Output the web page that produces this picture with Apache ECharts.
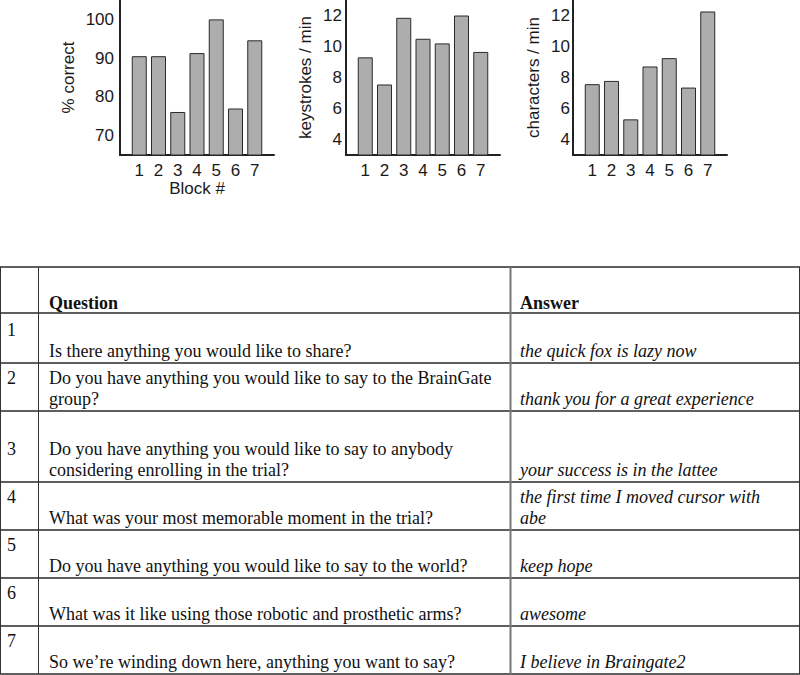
<!DOCTYPE html>
<html>
<head>
<meta charset="utf-8">
<script src="https://cdn.jsdelivr.net/npm/echarts@6/dist/echarts.min.js"></script>
<style>
  html, body { margin: 0; padding: 0; background: #fff; }
  #main { width: 800px; height: 675px; }
</style>
</head>
<body>
<div id="main"></div>
<script type="text/javascript">
  // block numbers and measured values
  var blocks = [1, 2, 3, 4, 5, 6, 7];
  var pctCorrect = [90.5, 90.5, 76.1, 91.3, 100, 77.0, 94.6];
  var keystrokesPerMin = [9.3, 7.55, 11.85, 10.5, 10.2, 12.0, 9.65];
  var charsPerMin = [7.57, 7.78, 5.3, 8.71, 9.25, 7.35, 12.26];
  var pctTicks = [70, 80, 90, 100];
  var rateTicks = [4, 6, 8, 10, 12];

  // table text (each cell is a list of lines, bottom aligned in its row)
  var headers = ['Question', 'Answer'];
  var rowNums = [['1', ''], ['2', ''], ['', '3', ''], ['4', ''], ['5', ''], ['6', ''], ['7', '']];
  var questions = [
    ['', 'Is there anything you would like to share?'],
    ['Do you have anything you would like to say to the BrainGate', 'group?'],
    ['', 'Do you have anything you would like to say to anybody', 'considering enrolling in the trial?'],
    ['', 'What was your most memorable moment in the trial?'],
    ['', 'Do you have anything you would like to say to the world?'],
    ['', 'What was it like using those robotic and prosthetic arms?'],
    ['', 'So we\u2019re winding down here, anything you want to say?']
  ];
  var answers = [
    ['', 'the quick fox is lazy now'],
    ['', 'thank you for a great experience'],
    ['', '', 'your success is in the lattee'],
    ['the first time I moved cursor with', 'abe'],
    ['', 'keep hope'],
    ['', 'awesome'],
    ['', 'I believe in Braingate2']
  ];

  var myChart = echarts.init(document.getElementById('main'), null, { renderer: 'svg' });

  var sansFont = 'Liberation Sans';
  var txtColor = '#1a1a1a';

  function pairs(vals) {
    return blocks.map(function (b, i) { return [b, vals[i]]; });
  }

  var grids = [
    { left: 120, top: 0, width: 154, height: 155 },
    { left: 346, top: 0, width: 154, height: 155 },
    { left: 573, top: 0, width: 154, height: 155 }
  ];

  function xAxisFor(idx, name) {
    return {
      type: 'value', gridIndex: idx, min: 0, max: 8,
      name: name || '', nameLocation: 'middle', nameGap: 25,
      nameTextStyle: { fontFamily: sansFont, fontSize: 17, color: txtColor },
      axisLine: { lineStyle: { color: '#222', width: 2 } },
      axisTick: { show: false },
      splitLine: { show: false },
      axisLabel: {
        customValues: blocks, margin: 7,
        fontFamily: sansFont, fontSize: 17, color: txtColor
      }
    };
  }

  function yAxisFor(idx, name, min, max, ticks, gap, margin) {
    return {
      type: 'value', gridIndex: idx, min: min, max: max,
      name: name, nameLocation: 'middle', nameGap: gap,
      nameTextStyle: { fontFamily: sansFont, fontSize: 17, color: txtColor },
      axisLine: { show: true, lineStyle: { color: '#222', width: 2 } },
      axisTick: { show: false },
      splitLine: { show: false },
      axisLabel: {
        customValues: ticks, margin: margin,
        fontFamily: sansFont, fontSize: 17, color: txtColor
      }
    };
  }

  function barSeries(idx, vals) {
    return {
      type: 'bar', xAxisIndex: idx, yAxisIndex: idx,
      barWidth: 15, silent: true,
      itemStyle: { color: '#adadad', borderColor: '#2a2a2a', borderWidth: 1 },
      data: pairs(vals)
    };
  }

  // table drawn as graphic elements
  var lineBottoms = [313, 363, 411, 482, 530, 578, 626, 674];
  var tableTop = 267;
  var colX = [7, 49, 520];
  var lineGap = 21.5;
  var serif = '"Liberation Serif", "Times New Roman", serif';
  var graphics = [];

  function hline(y) {
    graphics.push({ type: 'line', silent: true,
      shape: { x1: 0, y1: y, x2: 800, y2: y },
      style: { stroke: '#2a2a2a', lineWidth: 1.3 } });
  }
  function vline(x, color, w) {
    graphics.push({ type: 'line', silent: true,
      shape: { x1: x, y1: tableTop, x2: x, y2: 674 },
      style: { stroke: color, lineWidth: w } });
  }
  function txt(s, x, baseline, font) {
    if (!s) return;
    graphics.push({ type: 'text', silent: true, x: x, y: baseline - 6,
      style: { text: s, font: font, fill: '#111', align: 'left', verticalAlign: 'middle' } });
  }

  hline(tableTop);
  lineBottoms.forEach(function (y) { hline(y); });
  vline(0.5, '#333', 1);
  vline(38.5, '#333', 1);
  vline(510.5, '#777', 2);
  vline(799.5, '#333', 1);

  txt(headers[0], colX[1], 309, 'bold 18px ' + serif);
  txt(headers[1], colX[2], 309, 'bold 18px ' + serif);

  for (var r = 0; r < questions.length; r++) {
    var bottom = lineBottoms[r + 1];
    var cells = [rowNums[r], questions[r], answers[r]];
    cells.forEach(function (lines, c) {
      var n = lines.length;
      lines.forEach(function (s, k) {
        var base = bottom - 6 - lineGap * (n - 1 - k);
        txt(s, colX[c], base, (c === 2 ? 'italic ' : '') + '18px ' + serif);
      });
    });
  }

  var option = {
    animation: false,
    backgroundColor: '#fff',
    grid: grids,
    xAxis: [xAxisFor(0, 'Block #'), xAxisFor(1), xAxisFor(2)],
    yAxis: [
      yAxisFor(0, '% correct', 65, 105, pctTicks, 43, 6),
      yAxisFor(1, 'keystrokes / min', 3, 13, rateTicks, 32, 4),
      yAxisFor(2, 'characters / min', 3, 13, rateTicks, 31, 3)
    ],
    series: [
      barSeries(0, pctCorrect),
      barSeries(1, keystrokesPerMin),
      barSeries(2, charsPerMin)
    ],
    graphic: graphics
  };

  myChart.setOption(option);
</script>
</body>
</html>
